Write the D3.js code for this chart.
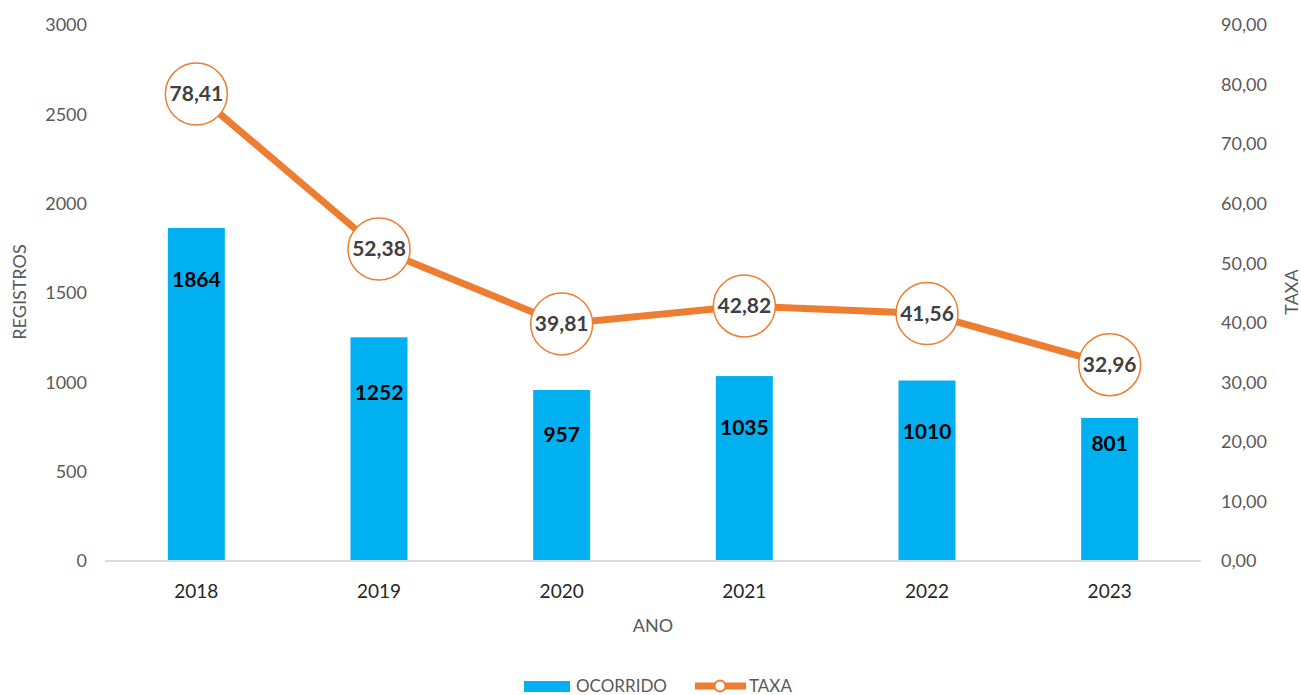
<!DOCTYPE html>
<meta charset="utf-8">
<style>
    body { margin: 0; background: #fff; }
    text { font-family: Lato, "Open Sans", sans-serif; }
    .tick { fill: #595959; font-size: 18px; }
    .year { fill: #262626; font-size: 19px; }
    .title { fill: #595959; font-size: 18px; }
    .legend { fill: #595959; font-size: 17px; }
    .barlabel { fill: #000; font-size: 21px; font-weight: bold; }
    .ratelabel { fill: #404040; font-size: 21px; font-weight: bold; }
</style>
<body>
<script src="https://d3js.org/d3.v7.min.js"></script>
<script>
    // Data
    var years = ["2018", "2019", "2020", "2021", "2022", "2023"];
    var ocorrido = [1864, 1252, 957, 1035, 1010, 801];
    var taxa = [78.41, 52.38, 39.81, 42.82, 41.56, 32.96];
    var leftTicks = [0, 500, 1000, 1500, 2000, 2500, 3000];
    var rightTicks = [0, 10, 20, 30, 40, 50, 60, 70, 80, 90];
    // how far below the bar top each value label sits (as placed in the original)
    var labelDrop = [52, 55, 45, 52, 51, 26];

    var width = 1301, height = 695;
    var svg = d3.select("body").append("svg")
        .attr("width", width)
        .attr("height", height);

    var x = d3.scaleBand().domain(years).range([105, 1201]).padding(0);
    var yL = d3.scaleLinear().domain([0, 3000]).range([561, 25]);
    var yR = d3.scaleLinear().domain([0, 90]).range([561, 25]);
    var barW = 57;
    var fmt = function (v) { return d3.format(".2f")(v).replace(".", ","); };

    // Left axis labels
    svg.append("g").selectAll("text")
        .data(leftTicks).enter().append("text")
        .attr("class", "tick")
        .attr("x", 87)
        .attr("y", d => yL(d))
        .attr("dy", "0.35em")
        .attr("text-anchor", "end")
        .text(d => d);

    // Right axis labels
    svg.append("g").selectAll("text")
        .data(rightTicks).enter().append("text")
        .attr("class", "tick")
        .attr("x", 1221)
        .attr("y", d => yR(d))
        .attr("dy", "0.35em")
        .text(d => fmt(d));

    // Bars
    svg.append("g").selectAll("rect")
        .data(ocorrido).enter().append("rect")
        .attr("x", (d, i) => x(years[i]) + x.bandwidth() / 2 - barW / 2)
        .attr("y", d => yL(d))
        .attr("width", barW)
        .attr("height", d => yL(0) - yL(d))
        .attr("fill", "#00B0F0");

    // Baseline
    svg.append("line")
        .attr("x1", 105).attr("x2", 1201)
        .attr("y1", yL(0)).attr("y2", yL(0))
        .attr("stroke", "#d9d9d9")
        .attr("stroke-width", 2);

    // Bar labels
    svg.append("g").selectAll("text")
        .data(ocorrido).enter().append("text")
        .attr("class", "barlabel")
        .attr("x", (d, i) => x(years[i]) + x.bandwidth() / 2)
        .attr("y", (d, i) => yL(d) + labelDrop[i])
        .attr("dy", "0.35em")
        .attr("text-anchor", "middle")
        .text(d => d);

    // Year labels
    svg.append("g").selectAll("text")
        .data(years).enter().append("text")
        .attr("class", "year")
        .attr("x", d => x(d) + x.bandwidth() / 2)
        .attr("y", 591)
        .attr("dy", "0.35em")
        .attr("text-anchor", "middle")
        .text(d => d);

    // Rate line
    var line = d3.line()
        .x((d, i) => x(years[i]) + x.bandwidth() / 2)
        .y(d => yR(d));
    svg.append("path")
        .datum(taxa)
        .attr("d", line)
        .attr("fill", "none")
        .attr("stroke", "#ED7D31")
        .attr("stroke-width", 7);

    var pts = svg.append("g").selectAll("g")
        .data(taxa).enter().append("g")
        .attr("transform", (d, i) => "translate(" + (x(years[i]) + x.bandwidth() / 2) + "," + yR(d) + ")");
    pts.append("circle")
        .attr("r", 31)
        .attr("fill", "#fff")
        .attr("stroke", "#ED7D31")
        .attr("stroke-width", 1.5);
    pts.append("text")
        .attr("class", "ratelabel")
        .attr("dy", "0.35em")
        .attr("text-anchor", "middle")
        .text(d => fmt(d));

    // Axis titles
    svg.append("text")
        .attr("class", "title")
        .attr("transform", "translate(26,292) rotate(-90)")
        .attr("text-anchor", "middle")
        .text("REGISTROS");
    svg.append("text")
        .attr("class", "title")
        .attr("transform", "translate(1298,292) rotate(-90)")
        .attr("text-anchor", "middle")
        .text("TAXA");
    svg.append("text")
        .attr("class", "title")
        .attr("x", 653)
        .attr("y", 626)
        .attr("dy", "0.35em")
        .attr("text-anchor", "middle")
        .text("ANO");

    // Legend
    var lg = svg.append("g");
    lg.append("rect")
        .attr("x", 524).attr("y", 681)
        .attr("width", 46).attr("height", 11)
        .attr("fill", "#00B0F0");
    lg.append("text")
        .attr("class", "legend")
        .attr("x", 576).attr("y", 692)
        .text("OCORRIDO");
    lg.append("line")
        .attr("x1", 695).attr("x2", 746)
        .attr("y1", 686).attr("y2", 686)
        .attr("stroke", "#ED7D31")
        .attr("stroke-width", 7);
    lg.append("circle")
        .attr("cx", 720).attr("cy", 686).attr("r", 5.5)
        .attr("fill", "#fff")
        .attr("stroke", "#ED7D31")
        .attr("stroke-width", 2);
    lg.append("text")
        .attr("class", "legend")
        .attr("x", 749).attr("y", 692)
        .text("TAXA");
</script>
</body>
